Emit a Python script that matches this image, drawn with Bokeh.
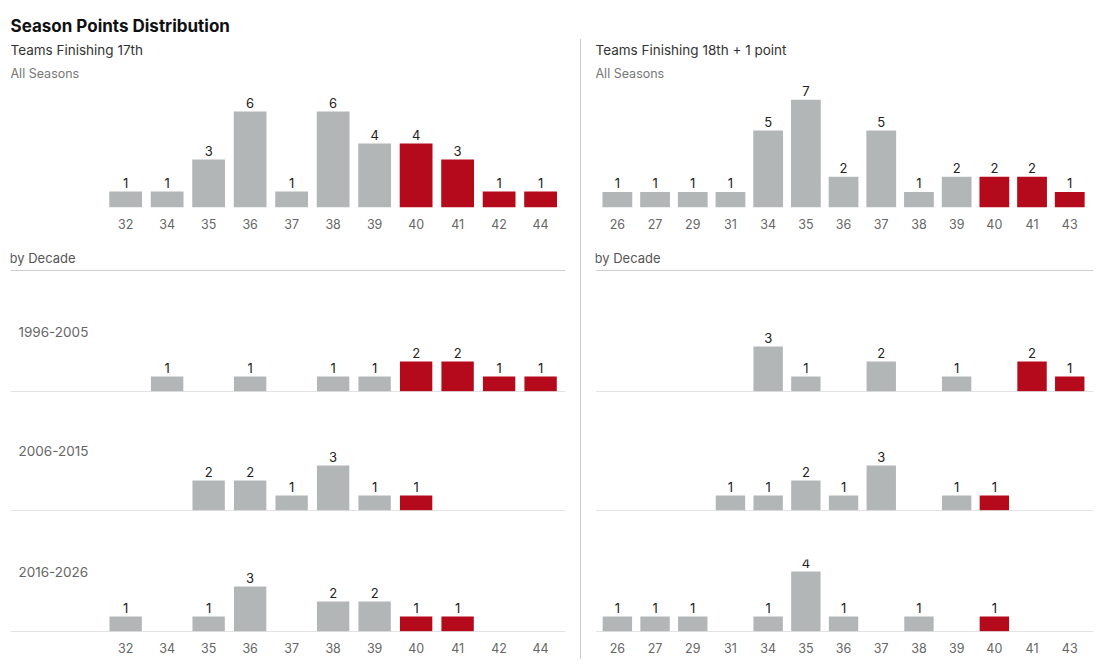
from bokeh.plotting import figure
from bokeh.models import Range1d, FixedTicker, Span, Label, Title, Spacer
from bokeh.layouts import row, column
from bokeh.embed import file_html
from bokeh.resources import INLINE
from bokeh.core.properties import value

FONT = "Inter"
GRAY = "#b3b6b7"
RED = "#b5091c"

# Left panel: teams finishing 17th
L_CATS = ["32", "34", "35", "36", "37", "38", "39", "40", "41", "42", "44"]
L_ALL = [1, 1, 3, 6, 1, 6, 4, 4, 3, 1, 1]
L_1996 = [0, 1, 0, 1, 0, 1, 1, 2, 2, 1, 1]
L_2006 = [0, 0, 2, 2, 1, 3, 1, 1, 0, 0, 0]
L_2016 = [1, 0, 1, 3, 0, 2, 2, 1, 1, 0, 0]

# Right panel: teams finishing 18th + 1 point
R_CATS = ["26", "27", "29", "31", "34", "35", "36", "37", "38", "39", "40", "41", "43"]
R_ALL = [1, 1, 1, 1, 5, 7, 2, 5, 1, 2, 2, 2, 1]
R_1996 = [0, 0, 0, 0, 3, 1, 0, 2, 0, 1, 0, 2, 1]
R_2006 = [0, 0, 0, 1, 1, 2, 1, 3, 0, 1, 1, 0, 0]
R_2016 = [1, 1, 1, 0, 1, 4, 1, 0, 1, 0, 1, 0, 0]

DECADES = ["1996-2005", "2006-2015", "2016-2026"]
RED_FROM = 40


def base_fig(xr, width, height, y_end, mbl, mbr, mbt, mbb):
    p = figure(width=width, height=height, x_range=Range1d(*xr), y_range=Range1d(0, y_end),
               output_backend="svg", toolbar_location=None,
               min_border_left=mbl, min_border_right=mbr, min_border_top=mbt, min_border_bottom=mbb)
    p.xgrid.visible = False
    p.ygrid.visible = False
    p.outline_line_color = None
    p.yaxis.visible = False
    p.background_fill_color = None
    p.border_fill_color = None
    return p


def add_bars(p, cats, vals, bw):
    xs = [i for i, v in enumerate(vals) if v > 0]
    tops = [vals[i] for i in xs]
    cols = [RED if int(cats[i]) >= RED_FROM else GRAY for i in xs]
    p.vbar(x=xs, top=tops, width=bw, color=cols, line_color=None)
    p.text(x=xs, y=tops, text=[str(t) for t in tops], y_offset=-4, text_align="center",
           text_baseline="bottom", text_font=value(FONT), text_font_size="13px", text_color="#222")


def style_axis(p, cats, show):
    if not show:
        p.xaxis.visible = False
        return
    ax = p.xaxis[0]
    ax.ticker = FixedTicker(ticks=list(range(len(cats))))
    ax.major_label_overrides = {i: c for i, c in enumerate(cats)}
    ax.axis_line_color = None
    ax.major_tick_line_color = None
    ax.minor_tick_line_color = None
    ax.major_label_standoff = 5
    ax.major_label_text_font = FONT
    ax.major_label_text_font_size = "12.5px"
    ax.major_label_text_color = "#666"


def build(cats, all_vals, decade_vals, xr, width, mbl, mbr, y_top_end, sub, show_dec_labels, main):
    figs = []
    top = base_fig(xr, width, 227, y_top_end, mbl, mbr, 77, 27)
    add_bars(top, cats, all_vals, 0.79)
    style_axis(top, cats, True)
    top.add_layout(Title(text="All Seasons", text_font=FONT, text_font_size="12.5px",
                         text_color="#777", text_font_style="normal", standoff=8, align="left"), "above")
    top.add_layout(Title(text=sub, text_font=FONT, text_font_size="13.5px",
                         text_color="#333", text_font_style="normal", standoff=4, align="left"), "above")
    top.add_layout(Title(text=main, text_font=FONT, text_font_size="17px",
                         text_color="#111", text_font_style="bold", standoff=4, align="left"), "above")
    figs.append(top)

    hdr = base_fig(xr, width, 37, 37, mbl, mbr, 0, 0)
    style_axis(hdr, cats, False)
    hdr.add_layout(Label(x=xr[0], y=14, text="by Decade", text_font=FONT, text_font_size="13px",
                         text_color="#555", text_baseline="middle", x_offset=-1))
    hdr.add_layout(Span(location=1, dimension="width", line_color="#cfcfcf", line_width=1))
    figs.append(hdr)

    specs = [(128, 48, 8, False), (119, 39, 8, False), (141, 41, 28, True)]
    for name, vals, (h, mt, mb, show) in zip(DECADES, decade_vals, specs):
        p = base_fig(xr, width, h, 4.8, mbl, mbr, mt, mb)
        add_bars(p, cats, vals, 0.78)
        style_axis(p, cats, show)
        p.add_layout(Span(location=0, dimension="width", line_color="#c8c8c8", line_width=1))
        if show_dec_labels:
            p.add_layout(Label(x=xr[0], y=4, text=name, text_font=FONT, text_font_size="13.5px",
                               text_color="#666", text_baseline="middle", x_offset=8))
        figs.append(p)
    return column(*figs, spacing=0)


left = build(L_CATS, L_ALL, [L_1996, L_2006, L_2016], (-2.775, 10.6), 576, 6, 15, 7.69,
             "Teams Finishing 17th", True, "Season Points Distribution")
right = build(R_CATS, R_ALL, [R_1996, R_2006, R_2016], (-0.58, 12.63), 519, 14, 7, 7.99,
              "Teams Finishing 18th + 1 point", False, " ")

divider = column(Spacer(width=1, height=32),
                 Spacer(width=1, height=620, styles={"background-color": "#cccccc"}), spacing=0)

inner = row(Spacer(width=4, height=10), left, divider, right, spacing=0)
layout = column(Spacer(width=10, height=7), inner, spacing=0)
open("out.html", "w").write(file_html(layout, INLINE))
